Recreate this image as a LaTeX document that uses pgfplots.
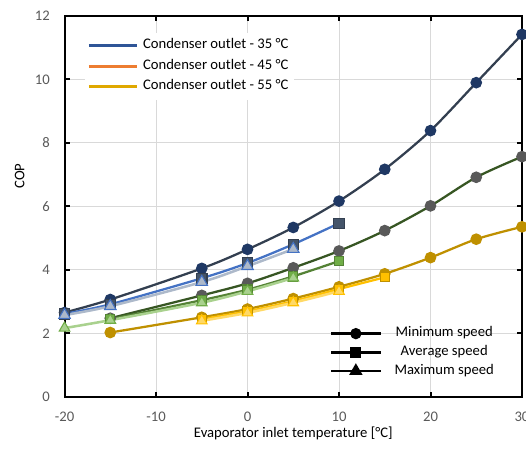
\documentclass[border=0pt]{standalone}
\usepackage{fontspec}
\setmainfont{Carlito}
\usepackage{pgfplots}
\pgfplotsset{compat=1.18}

\definecolor{gridgray}{HTML}{D9D9D9}
\definecolor{labgray}{HTML}{595959}
% 35 C
\definecolor{l35min}{HTML}{333F50}
\definecolor{m35min}{HTML}{1F3864}
\definecolor{l35avg}{HTML}{4472C4}
\definecolor{m35avg}{HTML}{44546A}
\definecolor{l35max}{HTML}{ADB9CA}
% 45 C
\definecolor{l45min}{HTML}{375623}
\definecolor{m45min}{HTML}{595959}
\definecolor{l45avg}{HTML}{548235}
\definecolor{m45avg}{HTML}{70AD47}
\definecolor{l45max}{HTML}{A9D18E}
% 55 C
\definecolor{l55min}{HTML}{BF9000}
\definecolor{l55avg}{HTML}{FFC000}
\definecolor{l55max}{HTML}{FFD966}
% legend
\definecolor{leg35}{HTML}{2F5597}
\definecolor{leg45}{HTML}{ED7D31}
\definecolor{leg55}{HTML}{E0A800}

\newcommand{\lfont}{\fontsize{11}{13}\selectfont}

\begin{document}
\begin{tikzpicture}
\begin{axis}[
    scale only axis,
    width=343.1pt, height=285.75pt,
    xmin=-20, xmax=30, ymin=0, ymax=12,
    xtick={-20,-10,...,30}, ytick={0,2,...,12},
    clip=false,
    grid=major,
    major grid style={color=gridgray, line width=0.75pt},
    axis line style={line width=1.5pt, black},
    tick style={line width=1.5pt, black},
    major tick length=3.75pt, tick align=inside,
    ticklabel style={font=\lfont, text=labgray},
    /pgf/number format/assume math mode=true,
    xticklabel style={yshift=-8pt},
    yticklabel style={xshift=-7.5pt},
    xlabel={Evaporator inlet temperature [°C]},
    ylabel={COP},
    label style={font=\lfont},
    xlabel style={at={(axis description cs:0.5,-0.0945)}, anchor=center},
    ylabel style={at={(axis description cs:-0.098,0.58)}, anchor=center},
    legend image code/.code={\draw[#1, line width=2.25pt] (0pt,0pt) -- (36pt,0pt);},
    legend cell align=left,
    legend style={at={(axis description cs:0.0435,0.957)}, anchor=north west,
        draw=none, fill=white, inner sep=2pt, font=\lfont, row sep=0pt,
        nodes={inner sep=2pt, text height=8pt, text depth=3.5pt},
        /tikz/every odd column/.append style={column sep=1.5pt}},
]
% 35 C
\addplot[l35min, line width=1.7pt, smooth, mark=*, mark size=3.5pt,
    mark options={fill=m35min, draw=m35min}, forget plot] coordinates {
    (-20,2.66) (-15,3.07) (-5,4.05) (0,4.65) (5,5.34) (10,6.17) (15,7.17) (20,8.39) (25,9.90) (30,11.42)};
\addplot[l35avg, line width=1.7pt, smooth, mark=square*, mark size=3.9pt,
    mark options={fill=m35avg, draw=l35min, line width=0.8pt}, forget plot] coordinates {
    (-20,2.62) (-15,2.92) (-5,3.74) (0,4.22) (5,4.81) (10,5.47)};
\addplot[l35max, line width=1.9pt, smooth, mark=triangle*, mark size=5pt,
    mark options={fill=l35max, draw=l35avg, line width=0.8pt}, forget plot] coordinates {
    (-20,2.58) (-15,2.86) (-5,3.62) (0,4.12) (5,4.66)};
% 45 C
\addplot[l45min, line width=1.7pt, smooth, mark=*, mark size=3.5pt,
    mark options={fill=m45min, draw=m45min}, forget plot] coordinates {
    (-15,2.48) (-5,3.20) (0,3.58) (5,4.07) (10,4.60) (15,5.24) (20,6.02) (25,6.92) (30,7.57)};
\addplot[l45avg, line width=1.7pt, smooth, mark=square*, mark size=3.5pt,
    mark options={fill=m45avg, draw=l45avg, line width=0.8pt}, forget plot] coordinates {
    (-15,2.45) (-5,3.05) (0,3.38) (5,3.80) (10,4.28)};
\addplot[l45max, line width=1.9pt, smooth, mark=triangle*, mark size=4.6pt,
    mark options={fill=l45max, draw=m45avg, line width=0.8pt}, forget plot] coordinates {
    (-20,2.17) (-15,2.42) (-5,2.97) (0,3.33) (5,3.75)};
% 55 C
\addplot[l55min, line width=1.7pt, smooth, mark=*, mark size=3.5pt,
    mark options={fill=l55min, draw=l55min}, forget plot] coordinates {
    (-15,2.03) (-5,2.51) (0,2.77) (5,3.10) (10,3.47) (15,3.88) (20,4.39) (25,4.97) (30,5.36)};
\addplot[l55avg, line width=1.7pt, smooth, mark=square*, mark size=3.5pt,
    mark options={fill=l55avg, draw=l55min, line width=0.8pt}, forget plot] coordinates {
    (-5,2.45) (0,2.70) (5,3.02) (10,3.40) (15,3.77)};
\addplot[l55max, line width=1.9pt, smooth, mark=triangle*, mark size=4.6pt,
    mark options={fill=l55max, draw=l55avg, line width=0.8pt}, forget plot] coordinates {
    (-5,2.40) (0,2.65) (5,2.97) (10,3.33)};

\addlegendimage{leg35}
\addlegendentry{Condenser outlet - 35 °C}
\addlegendimage{leg45}
\addlegendentry{Condenser outlet - 45 °C}
\addlegendimage{leg55}
\addlegendentry{Condenser outlet - 55 °C}
\end{axis}

\begin{axis}[
    scale only axis,
    width=343.1pt, height=285.75pt,
    xmin=0, xmax=1, ymin=0, ymax=1,
    hide axis,
    legend image code/.code={\draw[mark repeat=2, mark phase=2, #1]
        plot coordinates {(0pt,0pt) (18.5pt,0pt) (37pt,0pt)};},
    legend cell align=center,
    legend style={at={(axis description cs:0.5765,0.195)}, anchor=north west,
        draw=none, fill=none, inner sep=1pt, font=\lfont, row sep=0pt,
        nodes={inner sep=1.5pt, text height=8pt, text depth=3pt},
        /tikz/every odd column/.append style={column sep=8pt}},
]
\addlegendimage{black, line width=2pt, mark=*, mark size=3.2pt}
\addlegendentry{Minimum speed}
\addlegendimage{black, line width=2pt, mark=square*, mark size=3.2pt}
\addlegendentry{Average speed}
\addlegendimage{black, line width=2pt, mark=triangle*, mark size=3.8pt}
\addlegendentry{Maximum speed}
\end{axis}
\pgfresetboundingbox
\path (-48.4pt,-41.25pt) rectangle (346.1pt,297.75pt);
\end{tikzpicture}
\end{document}
